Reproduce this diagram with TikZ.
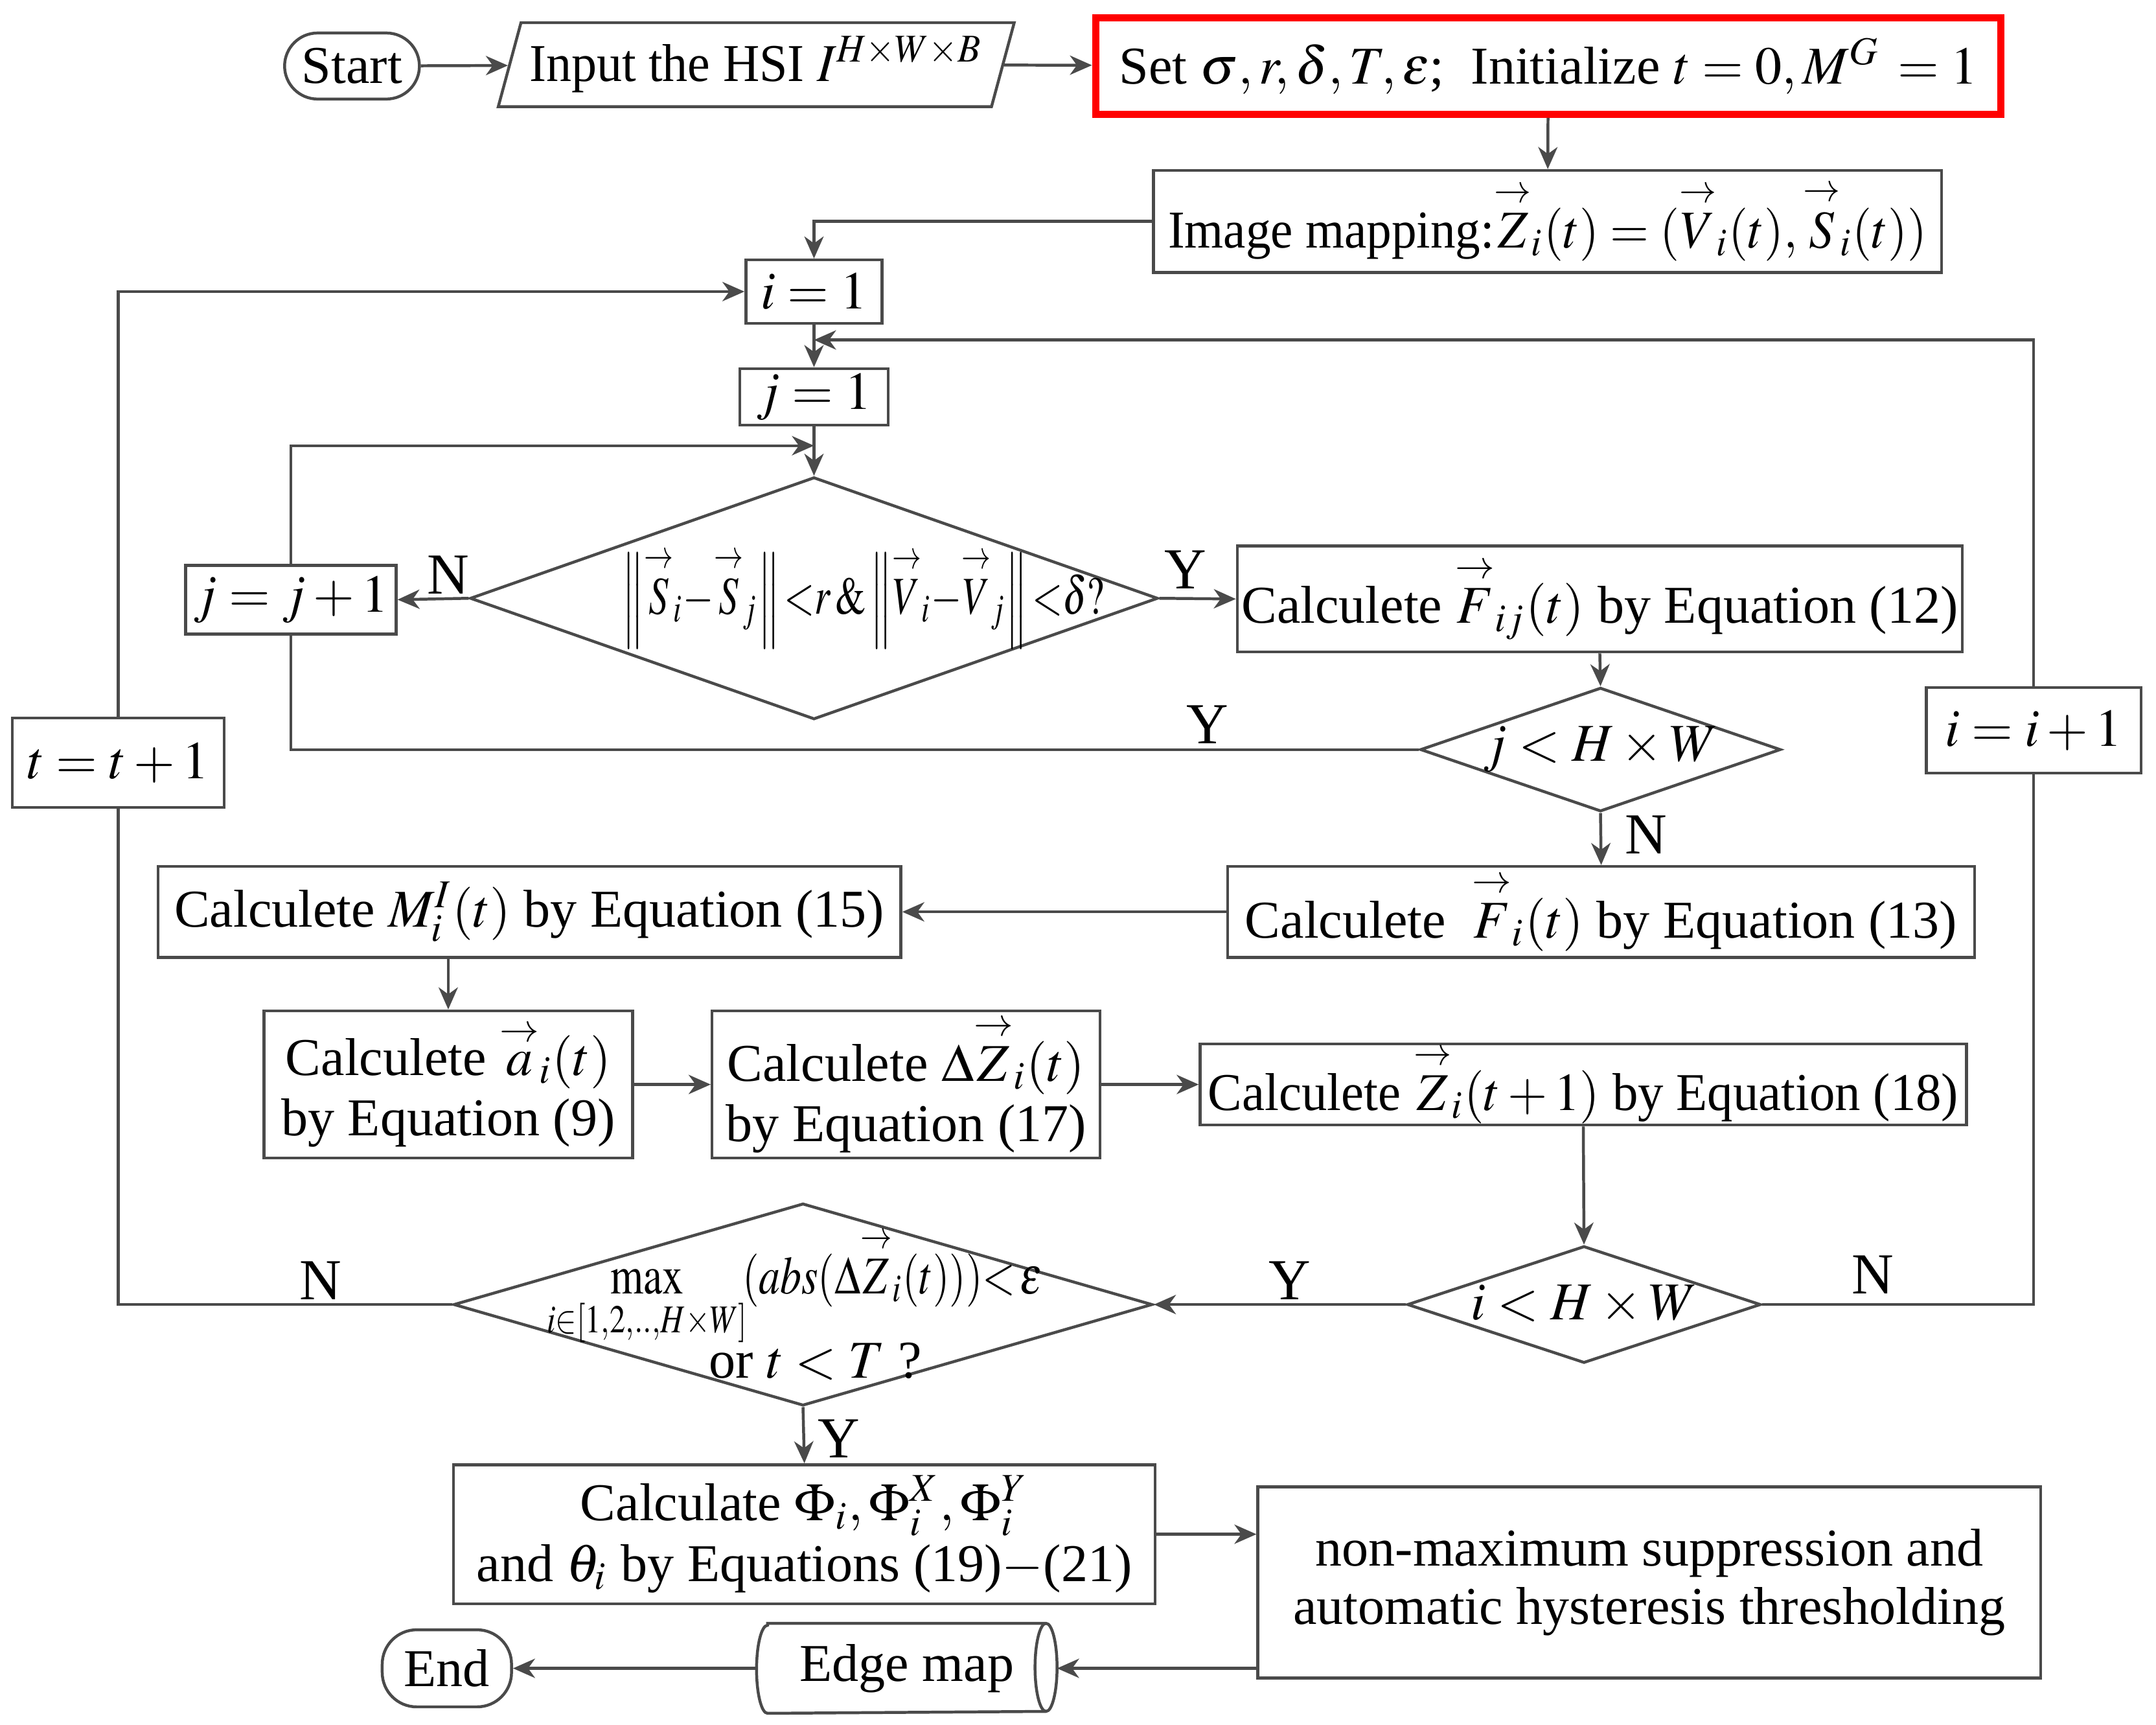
\documentclass[tikz,border=0pt]{standalone}
\usepackage{amsmath}
\usepackage{mathptmx}
\usepackage{graphicx}
\usepackage{fontspec}
\setmainfont{Liberation Serif}
\usetikzlibrary{shapes.geometric,arrows.meta,calc}
\definecolor{ln}{HTML}{4A4A4A}
\definecolor{redbox}{HTML}{FF0000}
\newcommand{\myvec}[1]{\overset{\rightarrow}{#1}}
\newcommand{\narrow}[2]{\scalebox{#1}[1]{#2}}
\begin{document}
\begin{tikzpicture}[x=0.01cm,y=-0.01cm,
  every node/.style={font=\fontsize{11}{12.5}\selectfont},
  box/.style={draw=ln, line width=0.6pt, rectangle, inner sep=0pt, align=center},
  dia/.style={draw=ln, line width=0.6pt, diamond, inner sep=0pt},
  term/.style={draw=ln, line width=0.6pt, rectangle, inner sep=0pt},
  conn/.style={draw=ln, line width=0.6pt},
  arr/.style={conn, -{Stealth[length=0.16cm, width=0.14cm, inset=0.05cm]}},
  lbl/.style={font=\fontsize{12}{14}\selectfont, inner sep=0pt},
  txt/.style={inner sep=0pt, align=center}
]
\useasboundingbox (0,0) rectangle (1568,1254);
\fill[white] (0,0) rectangle (1568,1254);

% top row
\node[term, rounded corners=0.24cm, minimum width=0.98cm, minimum height=0.48cm] (start) at (256,48) {Start};
\node[draw=ln, line width=0.6pt, trapezium, trapezium left angle=68, trapezium right angle=112,
      trapezium stretches body, minimum width=3.75cm, minimum height=0.61cm, inner sep=0pt] (inp) at (550,47)
      {\narrow{0.95}{Input the HSI\ $I^{H\times W\times B}$}};
\node[box, draw=redbox, line width=1.5pt, minimum width=6.58cm, minimum height=0.70cm] (set) at (1126,48)
      {Set $\sigma,r,\delta,T,\varepsilon$;\ \ Initialize $t=0,M^{G}\,=1$};
\node[box, minimum width=5.73cm, minimum height=0.74cm] (img) at (1125.5,161)
      {\narrow{0.94}{Image mapping:$\myvec{Z}_i(t)=(\myvec{V}_i(t),\myvec{S}_i(t))$}};

% i/j init
\node[box, minimum width=0.99cm, minimum height=0.46cm] (i1) at (592,212) {$i=1$};
\node[box, minimum width=1.08cm, minimum height=0.41cm] (j1) at (592,288.5) {$j=1$};
\coordinate (iloop) at ($(i1.south)!0.36!(j1.north)$);

% first decision
\node[dia, minimum width=5.00cm, minimum height=1.76cm] (d1) at (592,435) {};
\node[txt] (d1t) at ($(d1.center)+(36,0)$)
      {\narrow{0.74}{$\left\|\myvec{S}_i{-}\myvec{S}_j\right\|{<}r\,\&\left\|\myvec{V}_i{-}\myvec{V}_j\right\|{<}\delta?$}};
\coordinate (jloop) at ($(j1.south)!0.39!(d1.north)$);
\node[box, minimum width=1.53cm, minimum height=0.50cm] (jinc) at (211.5,436) {$j=j+1$};
\node[box, minimum width=5.27cm, minimum height=0.77cm] (fij) at (1163.5,435.5)
      {Calculete $\myvec{F}_{ij}(t)$ by Equation (12)};
\node[dia, minimum width=2.62cm, minimum height=0.90cm] (d2) at (1164,545) {};
\node[txt] (d2t) at (d2.center) {$j<H\times W$};
\node[box, minimum width=5.43cm, minimum height=0.66cm] (fi) at (1164.5,663)
      {Calculete\ \ $\myvec{F}_i(t)$ by Equation (13)};
\node[box, minimum width=5.40cm, minimum height=0.66cm] (mi) at (385,663)
      {Calculete $M_i^I(t)$ by Equation (15)};
\node[box, minimum width=2.68cm, minimum height=1.07cm] (ai) at (326,788.5)
      {Calculete $\myvec{a}_i(t)$\\ by Equation (9)};
\node[box, minimum width=2.82cm, minimum height=1.07cm] (dz) at (659,788.5)
      {Calculete $\Delta\myvec{Z}_i(t)$\\ by Equation (17)};
\node[box, minimum width=5.57cm, minimum height=0.59cm] (zt) at (1151.5,788.5)
      {\narrow{0.96}{Calculete $\myvec{Z}_i(t+1)$ by Equation (18)}};
\node[dia, minimum width=2.57cm, minimum height=0.85cm] (d3) at (1152,948.5) {};
\node[txt] (d3t) at (d3.center) {$i<H\times W$};
\node[box, minimum width=1.56cm, minimum height=0.62cm] (iinc) at (1479,531) {$i=i+1$};
\node[dia, minimum width=5.08cm, minimum height=1.47cm] (d4) at (584,948.5) {};
\node[txt] (d4t) at ($(d4.center)+(-6,0)$)
      {\narrow{0.8}{$\max\limits_{i\in[1,2,..,H\times W]}\!(abs(\Delta\myvec{Z}_i(t))){<}\,\varepsilon$}\\[-2pt] \hspace*{0.3cm}or $t<T$\ ?};
\node[box, minimum width=1.54cm, minimum height=0.65cm] (tinc) at (86,554.5) {$t=t+1$};

% bottom part
\node[box, minimum width=5.10cm, minimum height=1.01cm] (phi) at (585,1115.5)
      {Calculate $\Phi_i,\Phi_i^X,\Phi_i^Y$\\ and $\theta_i$ by Equations (19)$-$(21)};
\node[box, minimum width=5.69cm, minimum height=1.39cm, font=\fontsize{11}{12}\selectfont] (nms) at (1199.5,1150.5)
      {non-maximum suppression and\\ automatic hysteresis thresholding};
\node[inner sep=0pt, minimum width=2.17cm, minimum height=0.64cm] (edge) at (659.5,1213) {Edge map};
\draw[conn] ($(edge.north west)+(8,0)$) -- ($(edge.north east)+(-8,0)$)
      arc[start angle=90, end angle=-90, x radius=0.08cm, y radius=0.32cm]
      -- ($(edge.south west)+(8,0)$)
      arc[start angle=270, end angle=90, x radius=0.08cm, y radius=0.32cm] -- cycle;
\draw[conn] ($(edge.north east)+(-8,0)$)
      arc[start angle=90, end angle=270, x radius=0.08cm, y radius=0.32cm];
\node[term, rounded corners=0.25cm, minimum width=0.94cm, minimum height=0.56cm] (end) at (325,1213) {End};

% connectors
\draw[arr] (start) -- (inp);
\draw[arr] (inp) -- (set);
\draw[arr] (set) -- (img);
\draw[arr] (img.west) -| (i1.north);
\draw[arr] (i1.south) -- (j1.north);
\draw[arr] (iinc.north) |- (iloop);
\draw[arr] (j1.south) -- (d1.north);
\draw[arr] (jinc.north) |- (jloop);
\draw[arr] (d1.west) -- (jinc.east);
\draw[arr] (d1.east) -- (fij.west);
\draw[arr] (fij.south) -- (d2.north);
\draw[conn] (d2.west) -| (jinc.south);
\draw[arr] (d2.south) -- (fi.north);
\draw[arr] (fi.west) -- (mi.east);
\draw[arr] (mi.south -| ai.north) -- (ai.north);
\draw[arr] (ai.east) -- (dz.west);
\draw[arr] (dz.east) -- (zt.west);
\draw[arr] (zt.south) -- (d3.north);
\draw[arr] (d3.west) -- (d4.east);
\draw[conn] (d3.east) -| (iinc.south);
\draw[conn] (d4.west) -| (tinc.south);
\draw[arr] (tinc.north) |- (i1.west);
\draw[arr] (d4.south) -- (phi.north);
\draw[arr] (phi.east) -- (phi.east -| nms.west);
\draw[arr] (edge.east -| nms.west) -- (edge.east);
\draw[arr] (edge.west) -- (end.east);

% branch labels
\node[lbl] (n1) at (326,418) {N};
\node[lbl] (y1) at (862,414) {Y};
\node[lbl] (y2) at (878,527) {Y};
\node[lbl] (n2) at (1197,607) {N};
\node[lbl] (y3) at (938,931) {Y};
\node[lbl] (n3) at (1362,927) {N};
\node[lbl] (n4) at (233,931) {N};
\node[lbl] (y4) at (610,1046) {Y};
\end{tikzpicture}
\end{document}
